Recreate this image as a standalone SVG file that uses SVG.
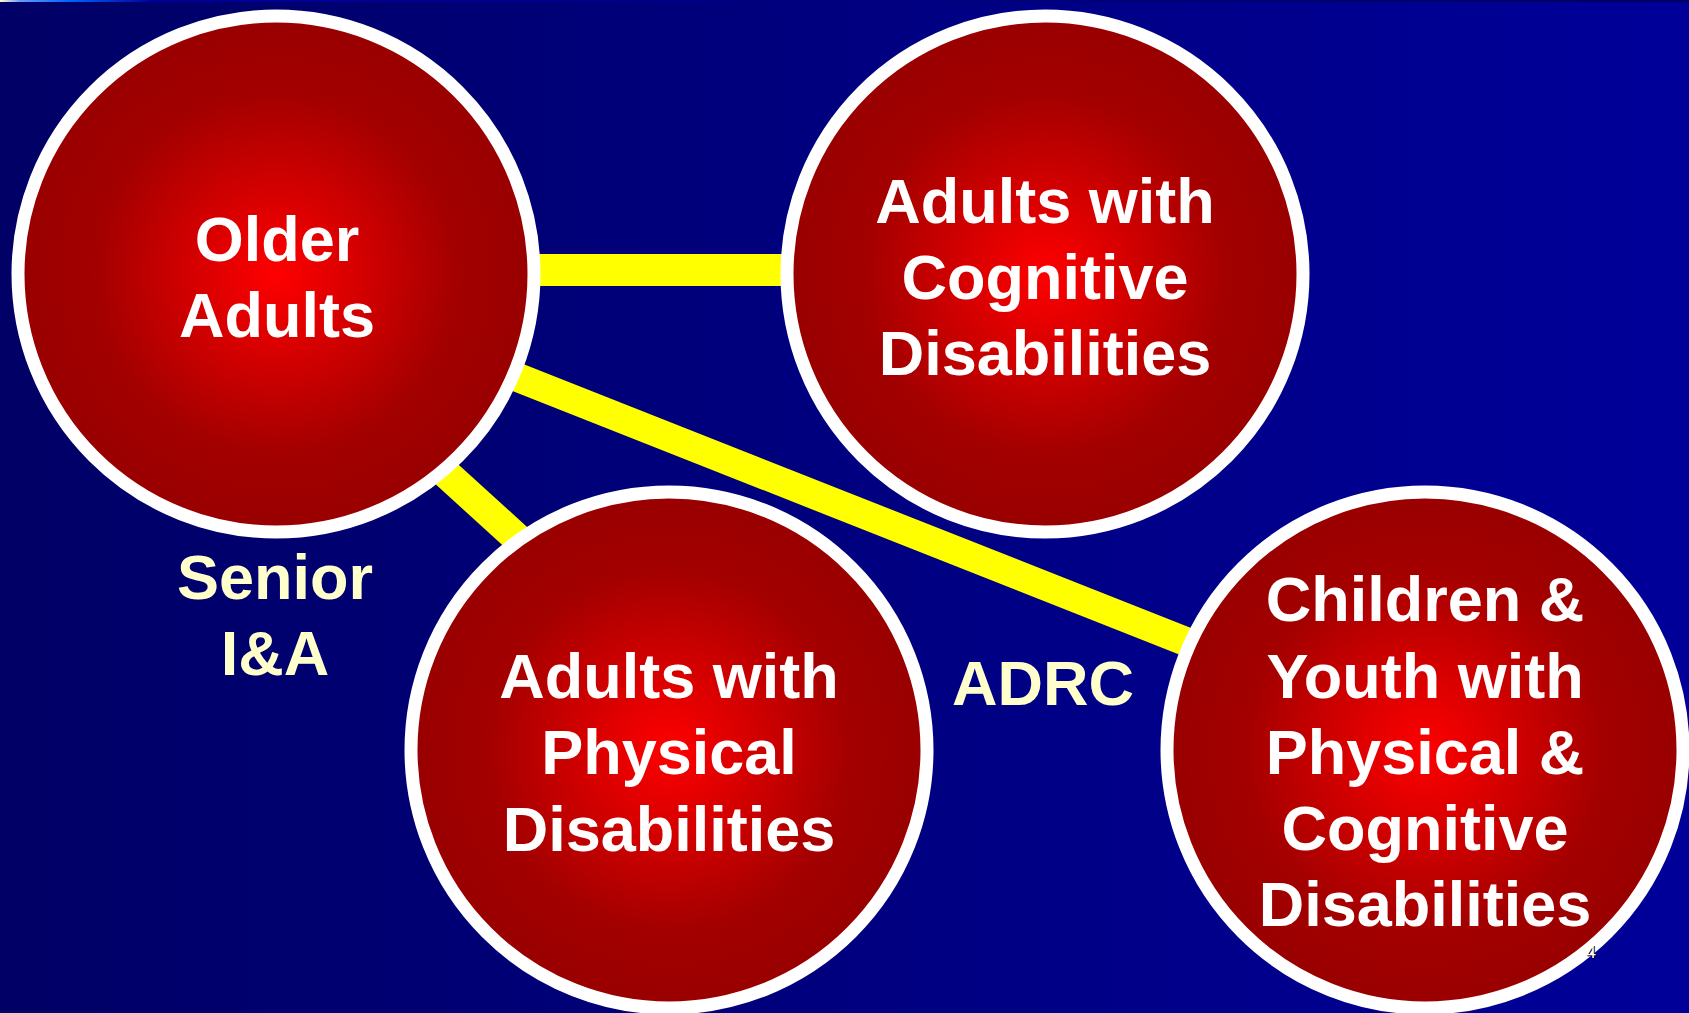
<svg xmlns="http://www.w3.org/2000/svg" width="1689" height="1013" viewBox="0 0 1689 1013">
  <defs>
    <linearGradient id="bg" x1="0" y1="0" x2="1" y2="0">
      <stop offset="0" stop-color="#000066"/>
      <stop offset="1" stop-color="#000099"/>
    </linearGradient>
    <linearGradient id="topline" x1="0" y1="0" x2="1689" y2="0" gradientUnits="userSpaceOnUse">
      <stop offset="0" stop-color="#ffffcc"/>
      <stop offset="0.012" stop-color="#6699ff"/>
      <stop offset="0.04" stop-color="#0066ff"/>
      <stop offset="0.09" stop-color="#000099"/>
      <stop offset="1" stop-color="#000060"/>
    </linearGradient>
    <radialGradient id="ball" cx="0.5" cy="0.5" r="0.5">
      <stop offset="0" stop-color="#ff0000"/>
      <stop offset="0.7" stop-color="#a30000"/>
      <stop offset="1" stop-color="#990000"/>
    </radialGradient>
  </defs>
  <style>
    .node circle { fill: url(#ball); stroke: #ffffff; stroke-width: 13; }
    .node text { font-family: "Liberation Sans", Arial, sans-serif; font-weight: bold; font-size: 63px; fill: #ffffff; text-anchor: middle; }
    .label text { font-family: "Liberation Sans", Arial, sans-serif; font-weight: bold; font-size: 63px; fill: #ffffcc; text-anchor: middle; }
    .conn { stroke: #ffff00; fill: none; }
    .num { font-family: "Liberation Sans", Arial, sans-serif; font-size: 18px; text-anchor: middle; }
  </style>
  <rect x="0" y="0" width="1689" height="1013" fill="url(#bg)"/>
  <rect x="0" y="0" width="1689" height="2" fill="url(#topline)"/>

  <g id="connectors">
    <line class="conn" x1="500" y1="270" x2="800" y2="270" stroke-width="32"/>
    <line class="conn" x1="276" y1="282" x2="1425" y2="736" stroke-width="29"/>
    <line class="conn" x1="396" y1="428" x2="529" y2="549" stroke-width="30"/>
  </g>

  <g id="node-older-adults" class="node">
    <circle cx="276" cy="274" r="258"/>
    <text x="277" y="261">Older</text>
    <text x="277" y="337">Adults</text>
  </g>

  <g id="node-cognitive" class="node">
    <circle cx="1045" cy="274" r="258"/>
    <text x="1045" y="223">Adults with</text>
    <text x="1045" y="299">Cognitive</text>
    <text x="1045" y="375">Disabilities</text>
  </g>

  <g id="node-physical" class="node">
    <circle cx="669" cy="750" r="258"/>
    <text x="669" y="698">Adults with</text>
    <text x="669" y="774">Physical</text>
    <text x="669" y="851">Disabilities</text>
  </g>

  <g id="node-children" class="node">
    <circle cx="1425" cy="750" r="258"/>
    <text x="1425" y="621">Children &amp;</text>
    <text x="1425" y="698">Youth with</text>
    <text x="1425" y="774">Physical &amp;</text>
    <text x="1425" y="850">Cognitive</text>
    <text x="1425" y="926">Disabilities</text>
  </g>

  <g id="label-senior" class="label">
    <text x="275" y="599">Senior</text>
    <text x="275" y="675">I&amp;A</text>
  </g>

  <g id="label-adrc" class="label">
    <text x="1043" y="705">ADRC</text>
  </g>

  <g id="slide-number">
    <text class="num" x="1592" y="959" fill="#000000">4</text>
    <text class="num" x="1591" y="958" fill="#ffffff">4</text>
  </g>
</svg>
